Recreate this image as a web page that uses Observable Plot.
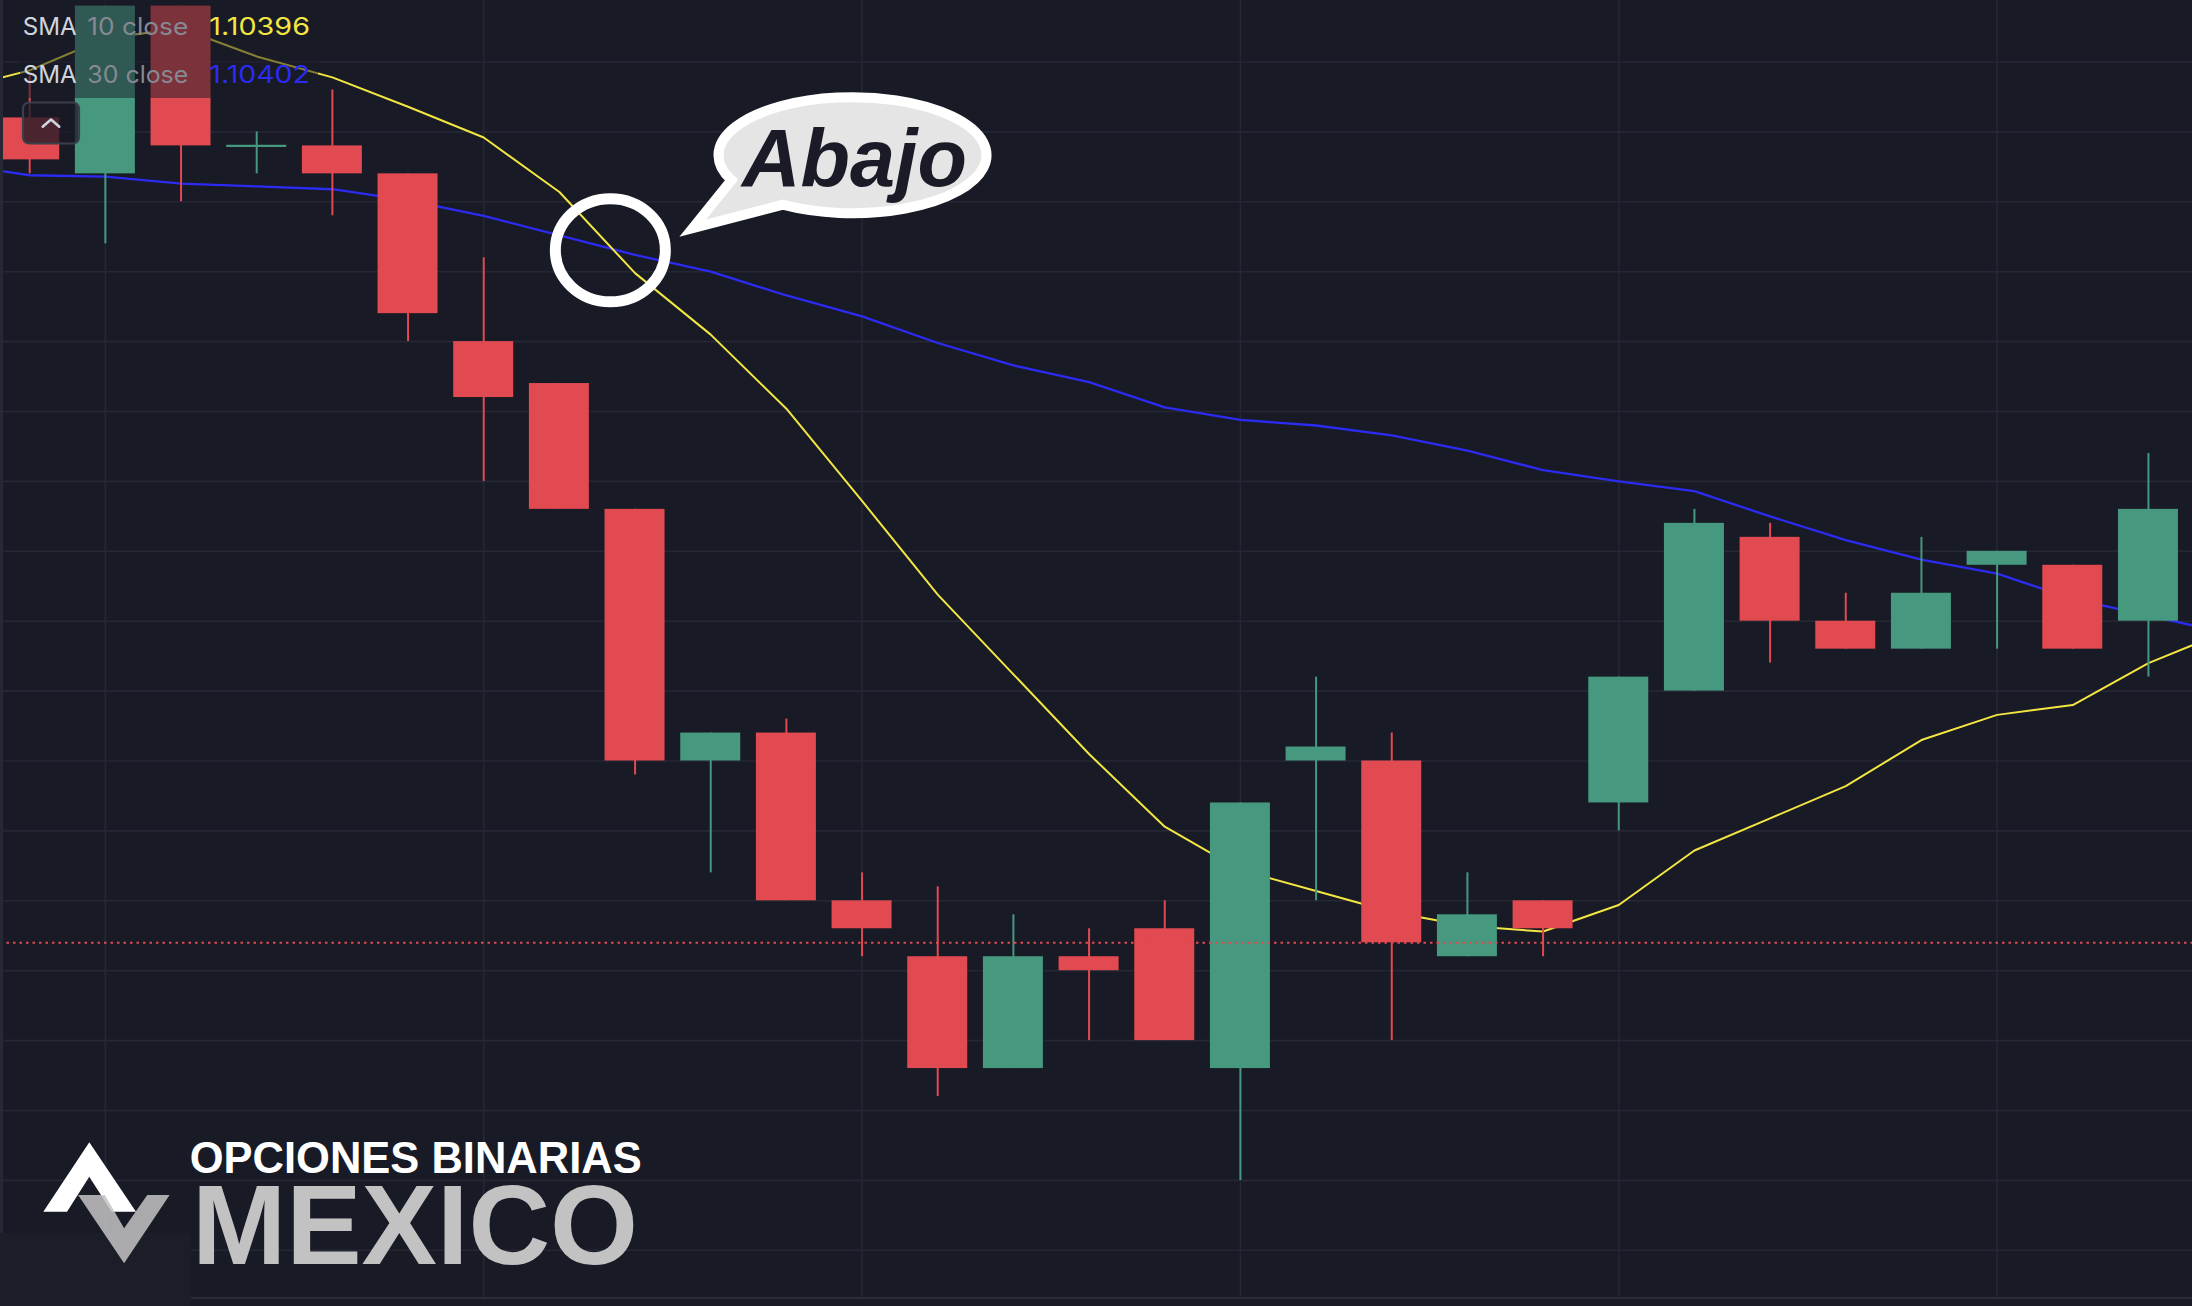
<!DOCTYPE html>
<html><head><meta charset="utf-8">
<script src="https://cdn.jsdelivr.net/npm/d3@7"></script>
<script src="https://cdn.jsdelivr.net/npm/@observablehq/plot@0.6"></script>
<style>
html,body{margin:0;padding:0;background:#181a25;overflow:hidden}
#chart{position:relative;width:2192px;height:1306px}
</style></head><body><div id="chart"></div>
<script>
// ---- data ----
const candleIndex = [0,1,2,3,4,5,6,7,8,9,10,11,12,13,14,15,16,17,18,19,20,21,22,23,24,25,26,27,28];
const openP  = [1.1076,1.1072,1.1084,1.1074,1.1074,1.1072,1.1060,1.1057,1.1048,1.1030,1.1032,1.1020,1.1016,1.1008,1.1016,1.1018,1.1008,1.1030,1.1030,1.1016,1.1020,1.1027,1.1035,1.1046,1.1040,1.1038,1.1044,1.1044,1.1040];
const highP  = [1.1079,1.1084,1.1084,1.1075,1.1078,1.1072,1.1066,1.1057,1.1048,1.1032,1.1033,1.1022,1.1021,1.1019,1.1018,1.1020,1.1027,1.1036,1.1032,1.1022,1.1020,1.1036,1.1048,1.1047,1.1042,1.1046,1.1045,1.1044,1.1052];
const lowP   = [1.1072,1.1067,1.1070,1.1072,1.1069,1.1060,1.1050,1.1048,1.1029,1.1022,1.1020,1.1016,1.1006,1.1008,1.1010,1.1010,1.1000,1.1020,1.1010,1.1016,1.1016,1.1025,1.1035,1.1037,1.1038,1.1038,1.1038,1.1038,1.1036];
const closeP = [1.1073,1.1084,1.1074,1.1074,1.1072,1.1062,1.1056,1.1048,1.1030,1.1032,1.1020,1.1018,1.1008,1.1016,1.1015,1.1010,1.1027,1.1031,1.1017,1.1019,1.1018,1.1036,1.1047,1.1040,1.1038,1.1042,1.1045,1.1038,1.1048];

const smaIndex = [-1,0,1,2,3,4,5,6,7,8,9,10,11,12,13,14,15,16,17,18,19,20,21,22,23,24,25,26,27,28,29];
const sma10 = [1.10780,1.10794,1.10817,1.10824,1.10804,1.10789,1.10768,1.10746,1.10707,1.10649,1.10605,1.10552,1.10486,1.10419,1.10362,1.10305,1.10253,1.10222,1.10207,1.10192,1.10182,1.10178,1.10197,1.10236,1.10259,1.10282,1.10315,1.10333,1.10340,1.10370,1.10392];
const sma30 = [1.10727,1.10719,1.10718,1.10713,1.10711,1.10709,1.10701,1.10690,1.10676,1.10662,1.10650,1.10633,1.10618,1.10599,1.10583,1.10571,1.10553,1.10544,1.10540,1.10533,1.10522,1.10508,1.10500,1.10493,1.10475,1.10458,1.10444,1.10434,1.10416,1.10404,1.10392];

const gridPrices = [1.1080,1.1075,1.1070,1.1065,1.1060,1.1055,1.1050,1.1045,1.1040,1.1035,1.1030,1.1025,1.1020,1.1015,1.1010,1.1005,1.1000,1.0995];
const gridIndex = [1,6,11,16,21,26];
const priceLine = [1.1017];

const legendNames  = ["SMA","SMA"];
const legendParams = ["10 close","30 close"];
const legendValues = ["1.10396","1.10402"];

const crossIndex = 7.68,  crossPrice = 1.10665;
const calloutIndex = 10.88, calloutPrice = 1.10733;
const tailIndex = 8.69, tailPrice = 1.10678;
const calloutText = "Abajo";
const brandTop = "OPCIONES BINARIAS";
const brandBottom = "MEXICO";

// ---- styles ----
const BG = "#181a25", GRID = "#252834", RED = "#e04a50", GREEN = "#46987f";
const YELLOW = "#f3e643", BLUE = "#2b2bf2";

const candles = candleIndex.map((i,k)=>({i, open:openP[k], high:highP[k], low:lowP[k], close:closeP[k]}));
const col = d => d.close >= d.open ? GREEN : RED;
const bodies = candles.filter(d => d.open !== d.close);
const dojis = candles.filter(d => d.open === d.close);
const smaRows = smaIndex.map((i,k)=>({i, s10:sma10[k], s30:sma30[k]}));
const HW = 0.3965;

const chart = Plot.plot({
  width: 2192, height: 1306, margin: 0,
  style: {background: BG},
  x: {type: "linear", domain: [-0.3859, 28.5822], axis: null},
  y: {type: "linear", domain: [1.099098, 1.10844], axis: null},
  color: {type: "identity"},
  marks: [
    Plot.ruleY(gridPrices, {stroke: GRID, strokeWidth: 1.6}),
    Plot.ruleX(gridIndex, {stroke: GRID, strokeWidth: 1.6}),
    Plot.line(smaRows, {x: "i", y: "s30", stroke: BLUE, strokeWidth: 2.3, clip: true}),
    Plot.line(smaRows, {x: "i", y: "s10", stroke: YELLOW, strokeWidth: 2, clip: true}),
    Plot.ruleX(candles, {x: "i", y1: "low", y2: "high", stroke: col, strokeWidth: 2}),
    Plot.rect(bodies, {x1: d => d.i - HW, x2: d => d.i + HW, y1: "open", y2: "close", fill: col}),
    Plot.ruleY(dojis, {y: "open", x1: d => d.i - HW, x2: d => d.i + HW, stroke: col, strokeWidth: 2.2}),
    Plot.ruleY(priceLine, {stroke: RED, strokeWidth: 2, strokeDasharray: "2.5,4"})
  ]
});
document.getElementById("chart").appendChild(chart);

const svg = d3.select(chart);
const X = chart.scale("x"), Y = chart.scale("y");

// bottom pane separator & left border
const deco = svg.append("g");
deco.append("rect").attr("x",0).attr("y",1297).attr("width",2192).attr("height",9).attr("fill",BG);
deco.append("line").attr("x1",0).attr("x2",2192).attr("y1",1298).attr("y2",1298).attr("stroke","#2a2d38").attr("stroke-width",2);
deco.append("rect").attr("x",0).attr("y",0).attr("width",3).attr("height",1233).attr("fill","#262935");
deco.append("rect").attr("x",0).attr("y",1233).attr("width",191).attr("height",73).attr("fill","#1b1e29");

// legend
const lg = svg.append("g").attr("font-family","Inter, Roboto, sans-serif").attr("font-size",24).attr("text-anchor","start");
lg.append("rect").attr("x",20).attr("y",0).attr("width",298).attr("height",98).attr("fill",BG).attr("opacity",0.5);
[35, 83.3].forEach((bl, k) => {
  lg.append("text").attr("x",22.7).attr("y",bl).attr("text-anchor","start").attr("fill","#d1d4dc").attr("textLength",54).attr("lengthAdjust","spacingAndGlyphs").text(legendNames[k]);
  lg.append("text").attr("x",87.3).attr("y",bl).attr("text-anchor","start").attr("fill","#868993").attr("textLength",101).attr("lengthAdjust","spacingAndGlyphs").text(legendParams[k]);
  lg.append("text").attr("x",209.3).attr("y",bl).attr("text-anchor","start").attr("fill",k===0?YELLOW:BLUE).attr("textLength",100.7).attr("lengthAdjust","spacingAndGlyphs").text(legendValues[k]);
});
lg.append("rect").attr("x",23).attr("y",102.5).attr("width",56).attr("height",41).attr("rx",6)
  .attr("fill",BG).attr("fill-opacity",0.75).attr("stroke","#3c3f4b").attr("stroke-width",2.2);
lg.append("path").attr("d","M42.7,126.7 L51,119.5 L59.3,126.7").attr("fill","none")
  .attr("stroke","#d1d4dc").attr("stroke-width",2.6).attr("stroke-linecap","round").attr("stroke-linejoin","round");

// crossing circle
const ccx = X.apply(crossIndex), ccy = Y.apply(crossPrice);
svg.append("ellipse").attr("cx",ccx).attr("cy",ccy).attr("rx",55).attr("ry",51.5)
  .attr("fill","none").attr("stroke","#ffffff").attr("stroke-width",11);

// speech bubble
const bx = X.apply(calloutIndex), by = Y.apply(calloutPrice);
const tx = X.apply(tailIndex), ty = Y.apply(tailPrice);
const rx = 134, ry = 58;
const ta = 154.6 * Math.PI/180, tb = 121.3 * Math.PI/180;
const Ax = bx + rx*Math.cos(ta), Ay = by + ry*Math.sin(ta);
const Bx = bx + rx*Math.cos(tb), By = by + ry*Math.sin(tb);
svg.append("path")
  .attr("d", `M${Ax},${Ay} L${tx+6},${ty-4} L${Bx},${By} A${rx},${ry} 0 1 0 ${Ax},${Ay} Z`)
  .attr("fill","#e5e5e5").attr("stroke","#ffffff").attr("stroke-width",10).attr("stroke-linejoin","miter");
svg.append("text").attr("x",bx+2).attr("y",by+31).attr("text-anchor","middle")
  .attr("font-family","'Liberation Sans', Arial, sans-serif").attr("font-weight","bold").attr("font-style","italic")
  .attr("font-size",81).attr("fill","#1a1b26").text(calloutText);

// watermark logo
const logo = svg.append("g").attr("text-anchor","start");
logo.append("path").attr("d","M89.3,1142.3 L136,1211.7 L111.6,1211.7 L89.3,1176.7 L67,1211.7 L43.3,1211.7 Z").attr("fill","#ffffff");
logo.append("path").attr("d","M78.1,1195 L169.6,1195 L124.1,1263.3 Z M104.9,1195 L147.3,1195 L124.1,1228.3 Z")
  .attr("fill","#c4c4c4").attr("fill-rule","evenodd").attr("opacity",0.85);
logo.append("text").attr("x",189.7).attr("y",1173.3).attr("text-anchor","start").attr("font-family","'Liberation Sans', Arial, sans-serif")
  .attr("font-weight","bold").attr("font-size",44).attr("fill","#ffffff").attr("textLength",452).attr("lengthAdjust","spacingAndGlyphs").text(brandTop);
logo.append("text").attr("x",192).attr("y",1264.3).attr("text-anchor","start").attr("font-family","'Liberation Sans', Arial, sans-serif")
  .attr("font-weight","bold").attr("font-size",113).attr("fill","#c2c2c2").attr("textLength",446).attr("lengthAdjust","spacingAndGlyphs").text(brandBottom);
</script>
</body></html>
